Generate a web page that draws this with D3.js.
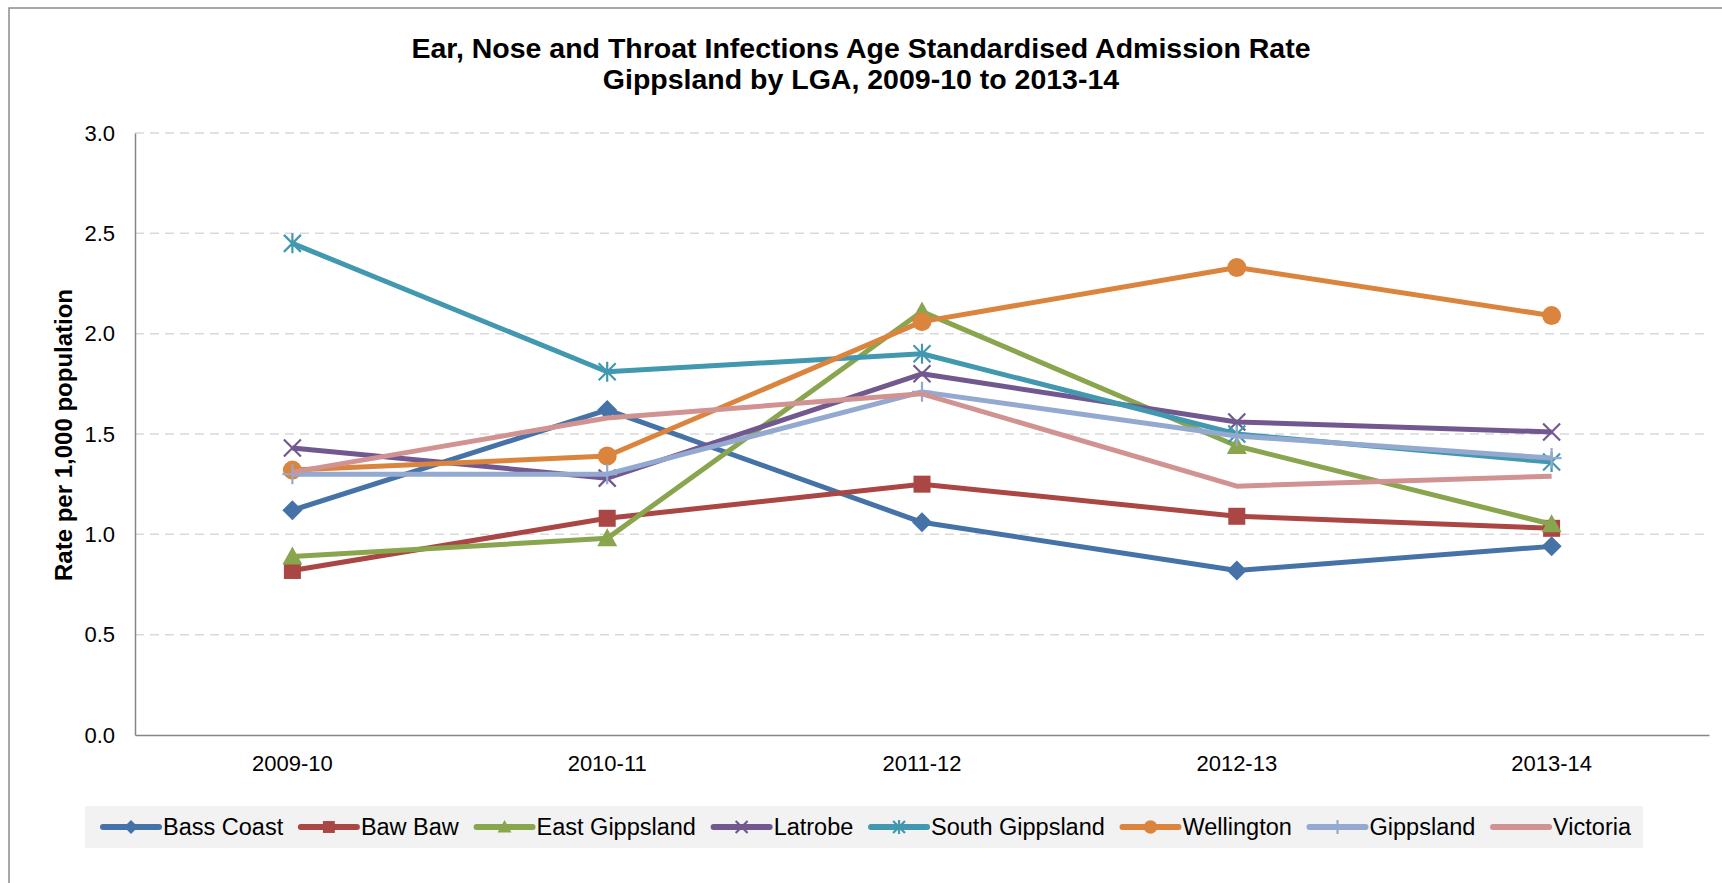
<!DOCTYPE html>
<html>
<head>
<meta charset="utf-8">
<script src="https://cdn.jsdelivr.net/npm/d3@7"></script>
<style>
  html, body { margin: 0; padding: 0; background: #ffffff; }
  svg { display: block; font-family: Arial, "Liberation Sans", sans-serif; }
</style>
</head>
<body>
<svg id="chart" width="1722" height="883"></svg>
<script>
// ---- Data ----
const titleLines = ["Ear, Nose and Throat Infections Age Standardised Admission Rate",
                    "Gippsland by LGA, 2009-10 to 2013-14"];
const yAxisTitle = "Rate per 1,000 population";
const categories = ["2009-10", "2010-11", "2011-12", "2012-13", "2013-14"];
const yTicks = [0.0, 0.5, 1.0, 1.5, 2.0, 2.5, 3.0];

const seriesNames = ["Bass Coast", "Baw Baw", "East Gippsland", "Latrobe",
                     "South Gippsland", "Wellington", "Gippsland", "Victoria"];
const bassCoast      = [1.12, 1.62, 1.06, 0.82, 0.94];
const bawBaw         = [0.82, 1.08, 1.25, 1.09, 1.03];
const eastGippsland  = [0.89, 0.98, 2.11, 1.44, 1.05];
const latrobe        = [1.43, 1.28, 1.80, 1.56, 1.51];
const southGippsland = [2.45, 1.81, 1.90, 1.50, 1.36];
const wellington     = [1.32, 1.39, 2.06, 2.33, 2.09];
const gippsland      = [1.30, 1.30, 1.71, 1.49, 1.38];
const victoria       = [1.31, 1.58, 1.70, 1.24, 1.29];
const seriesValues = [bassCoast, bawBaw, eastGippsland, latrobe,
                      southGippsland, wellington, gippsland, victoria];
const seriesColors = ["#4572A7", "#AA4643", "#89A54E", "#71588F",
                      "#4198AF", "#DB843D", "#93A9CF", "#D19392"];
const seriesMarkers = ["diamond", "square", "triangle", "x", "asterisk", "circle", "plus", "none"];

// ---- Layout ----
const svg = d3.select("#chart");
const plot = { left: 135, right: 1709, top: 133, bottom: 735 };

// outer frame
svg.append("rect")
  .attr("x", 9).attr("y", 8).attr("width", 1730).attr("height", 900)
  .attr("fill", "none").attr("stroke", "#8c8c8c").attr("stroke-width", 1.5);

// title
const title = svg.append("text")
  .attr("text-anchor", "middle")
  .attr("font-weight", "bold")
  .attr("font-size", 28.5)
  .attr("fill", "#000");
title.append("tspan").attr("x", 861).attr("y", 58).text(titleLines[0]);
title.append("tspan").attr("x", 861).attr("y", 89).text(titleLines[1]);

const x = d3.scaleBand().domain(categories).range([plot.left, plot.right]);
const y = d3.scaleLinear().domain([0, 3]).range([plot.bottom, plot.top]);

// gridlines
svg.append("g").selectAll("line")
  .data(yTicks.filter(d => d > 0))
  .join("line")
  .attr("x1", plot.left).attr("x2", plot.right)
  .attr("y1", d => y(d)).attr("y2", d => y(d))
  .attr("stroke", "#d9d9d9").attr("stroke-width", 1.5)
  .attr("stroke-dasharray", "9,6");

// y axis
const yAxis = svg.append("g")
  .attr("transform", `translate(${plot.left},0)`)
  .call(d3.axisLeft(y).tickValues(yTicks).tickFormat(d3.format(".1f")).tickSize(0).tickPadding(20));
yAxis.select(".domain").attr("stroke", "#868686").attr("stroke-width", 1.5);
yAxis.selectAll("text").attr("font-size", 22).attr("fill", "#000")
  .attr("font-family", "Arial, 'Liberation Sans', sans-serif");

// x axis
const xAxis = svg.append("g")
  .attr("transform", `translate(0,${plot.bottom})`)
  .call(d3.axisBottom(x).tickSize(0).tickPadding(20));
xAxis.select(".domain").attr("stroke", "#868686").attr("stroke-width", 1.5);
xAxis.selectAll("text").attr("font-size", 22).attr("fill", "#000")
  .attr("font-family", "Arial, 'Liberation Sans', sans-serif");

// y axis title
svg.append("text")
  .attr("transform", `translate(64,${(plot.top + plot.bottom) / 2 + 1}) rotate(-90)`)
  .attr("text-anchor", "middle")
  .attr("dy", "0.35em")
  .attr("font-weight", "bold")
  .attr("font-size", 24)
  .attr("fill", "#000")
  .text(yAxisTitle);

// marker drawing
function drawMarker(g, type, color, size) {
  const s = size / 2;
  if (type === "diamond") {
    g.append("path").attr("d", `M0,${-s}L${s},0L0,${s}L${-s},0Z`).attr("fill", color);
  } else if (type === "square") {
    const h = s * 0.85;
    g.append("rect").attr("x", -h).attr("y", -h).attr("width", 2 * h).attr("height", 2 * h).attr("fill", color);
  } else if (type === "triangle") {
    g.append("path").attr("d", `M0,${-s}L${s},${s * 0.8}L${-s},${s * 0.8}Z`).attr("fill", color);
  } else if (type === "circle") {
    g.append("circle").attr("r", s * 0.95).attr("fill", color);
  } else if (type === "x") {
    const h = s * 0.85;
    g.append("path").attr("d", `M${-h},${-h}L${h},${h}M${-h},${h}L${h},${-h}`)
      .attr("stroke", color).attr("stroke-width", 2.2).attr("fill", "none");
  } else if (type === "asterisk") {
    const h = s * 0.85;
    g.append("path").attr("d", `M${-h},${-h}L${h},${h}M${-h},${h}L${h},${-h}M0,${-s}L0,${s}`)
      .attr("stroke", color).attr("stroke-width", 2.2).attr("fill", "none");
  } else if (type === "plus") {
    g.append("path").attr("d", `M0,${-s}L0,${s}M${-s},0L${s},0`)
      .attr("stroke", color).attr("stroke-width", 2.2).attr("fill", "none");
  }
}

const line = d3.line()
  .x((d, i) => x(categories[i]) + x.bandwidth() / 2)
  .y(d => y(d));

seriesNames.forEach((name, k) => {
  const g = svg.append("g");
  g.append("path")
    .attr("d", line(seriesValues[k]))
    .attr("fill", "none")
    .attr("stroke", seriesColors[k])
    .attr("stroke-width", 5)
    .attr("stroke-linejoin", "round");
  seriesValues[k].forEach((v, i) => {
    const mg = g.append("g")
      .attr("transform", `translate(${x(categories[i]) + x.bandwidth() / 2},${y(v)})`);
    drawMarker(mg, seriesMarkers[k], seriesColors[k], 20);
  });
});

// legend
const legBox = { x: 85, y: 806, w: 1558, h: 42 };
svg.append("rect")
  .attr("x", legBox.x).attr("y", legBox.y).attr("width", legBox.w).attr("height", legBox.h)
  .attr("fill", "#f2f2f2");
const legFont = 23.5;
const lineLen = 56, textGap = 4;
const legStart = 103, legEnd = 1631;
const tmp = svg.append("text").attr("font-size", legFont);
const widths = seriesNames.map(n => { tmp.text(n); return tmp.node().getComputedTextLength(); });
tmp.remove();
const totalFixed = seriesNames.length * (lineLen + textGap) + d3.sum(widths);
const itemGap = (legEnd - legStart - totalFixed) / (seriesNames.length - 1);
let cx = legStart;
const legY = legBox.y + legBox.h / 2;
seriesNames.forEach((name, k) => {
  const g = svg.append("g");
  g.append("line")
    .attr("x1", cx).attr("x2", cx + lineLen).attr("y1", legY).attr("y2", legY)
    .attr("stroke", seriesColors[k]).attr("stroke-width", 6).attr("stroke-linecap", "round");
  const mg = g.append("g").attr("transform", `translate(${cx + lineLen / 2},${legY})`);
  drawMarker(mg, seriesMarkers[k], seriesColors[k], 14);
  g.append("text")
    .attr("x", cx + lineLen + textGap).attr("y", legY).attr("dy", "0.35em")
    .attr("font-size", legFont).attr("fill", "#000")
    .text(name);
  cx += lineLen + textGap + widths[k] + itemGap;
});
</script>
</body>
</html>
